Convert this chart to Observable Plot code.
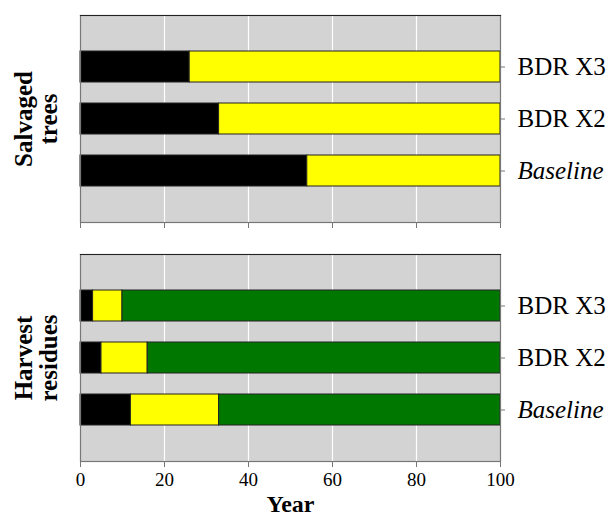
<!DOCTYPE html>
<html>
<head>
<meta charset="utf-8">
<script src="https://cdn.jsdelivr.net/npm/d3@7"></script>
<script src="https://cdn.jsdelivr.net/npm/@observablehq/plot@0.6"></script>
<style>
  html, body { margin: 0; padding: 0; background: #fff; }
  #chart { width: 612px; height: 516px; }
</style>
</head>
<body>
<div id="chart"></div>
<script>
// Panels (top to bottom) and scenarios (top to bottom within a panel)
const panels = ["Salvaged trees", "Harvest residues"];
const scenarios = ["BDR X3", "BDR X2", "Baseline"];
const stages = ["Stage 1", "Stage 2", "Stage 3"];
const stageColors = ["#000000", "#ffff00", "#007800"];
const xTicks = [0, 20, 40, 60, 80, 100];
const gridTicks = [20, 40, 60, 80];

// Years spent in each stage, per scenario (BDR X3, BDR X2, Baseline)
const salvagedStage1 = [26, 33, 54];
const salvagedStage2 = [74, 67, 46];
const residuesStage1 = [3, 5, 12];
const residuesStage2 = [7, 11, 21];
const residuesStage3 = [90, 84, 67];

// Long table for the stacked bars
const rows = [];
scenarios.forEach((s, i) => {
  rows.push({panel: panels[0], scenario: s, stage: stages[0], years: salvagedStage1[i]});
  rows.push({panel: panels[0], scenario: s, stage: stages[1], years: salvagedStage2[i]});
});
scenarios.forEach((s, i) => {
  rows.push({panel: panels[1], scenario: s, stage: stages[0], years: residuesStage1[i]});
  rows.push({panel: panels[1], scenario: s, stage: stages[1], years: residuesStage2[i]});
  rows.push({panel: panels[1], scenario: s, stage: stages[2], years: residuesStage3[i]});
});

// Scenario labels on the right of each panel
const labels = panels.flatMap(p => scenarios.map(s => ({panel: p, scenario: s})));

const chart = Plot.plot({
  width: 612,
  height: 516,
  marginLeft: 80,
  marginRight: 112,
  marginTop: 14,
  marginBottom: 55,
  style: {fontFamily: "'Liberation Serif', 'Times New Roman', serif", background: "#fff", color: "#000"},
  x: {domain: [0, 100], axis: null},
  y: {domain: scenarios, paddingInner: 0.4, paddingOuter: 0.67, axis: null},
  fy: {domain: panels, padding: 0.134, axis: null},
  color: {domain: stages, range: stageColors},
  marks: [
    Plot.frame({fill: "#d3d3d3"}),
    Plot.gridX(gridTicks, {stroke: "#fff", strokeOpacity: 1, strokeWidth: 1.2}),
    Plot.barX(rows, Plot.stackX({
      x: "years", y: "scenario", fy: "panel", fill: "stage",
      stroke: "#222", strokeWidth: 1
    })),
    Plot.frame({stroke: "#777", strokeWidth: 1.2}),
    // darker top edge of each panel
    Plot.frame({anchor: "top", stroke: "#222", strokeWidth: 1.2}),
    // tick marks under both panels, numbers under the lower one only
    Plot.axisX(xTicks, {facetAnchor: null, tickSize: 6, tickFormat: () => "", label: null, stroke: "#777"}),
    Plot.axisX(xTicks, {tickSize: 6, tickPadding: 5, fontSize: 19, label: null, stroke: "#777"}),
    Plot.axisY(scenarios, {anchor: "right", tickSize: 4, tickFormat: () => "", label: null, stroke: "#777"}),
    Plot.text(labels.filter(d => d.scenario !== "Baseline"), {
      x: () => 100, y: "scenario", fy: "panel", text: "scenario",
      textAnchor: "start", dx: 17, fontSize: 25
    }),
    Plot.text(labels.filter(d => d.scenario === "Baseline"), {
      x: () => 100, y: "scenario", fy: "panel", text: "scenario",
      textAnchor: "start", dx: 17, fontSize: 25, fontStyle: "italic"
    }),
    Plot.text(panels, {
      fy: d => d, text: d => d.replace(" ", "\n"),
      frameAnchor: "left", textAnchor: "middle", rotate: -90, dx: -44,
      fontSize: 25, fontWeight: "bold", lineHeight: 1
    }),
    Plot.text(["Year"], {
      fy: () => panels[1], text: d => d,
      frameAnchor: "bottom", lineAnchor: "bottom", dy: 50,
      fontSize: 24, fontWeight: "bold"
    })
  ]
});

document.getElementById("chart").appendChild(chart);
</script>
</body>
</html>
